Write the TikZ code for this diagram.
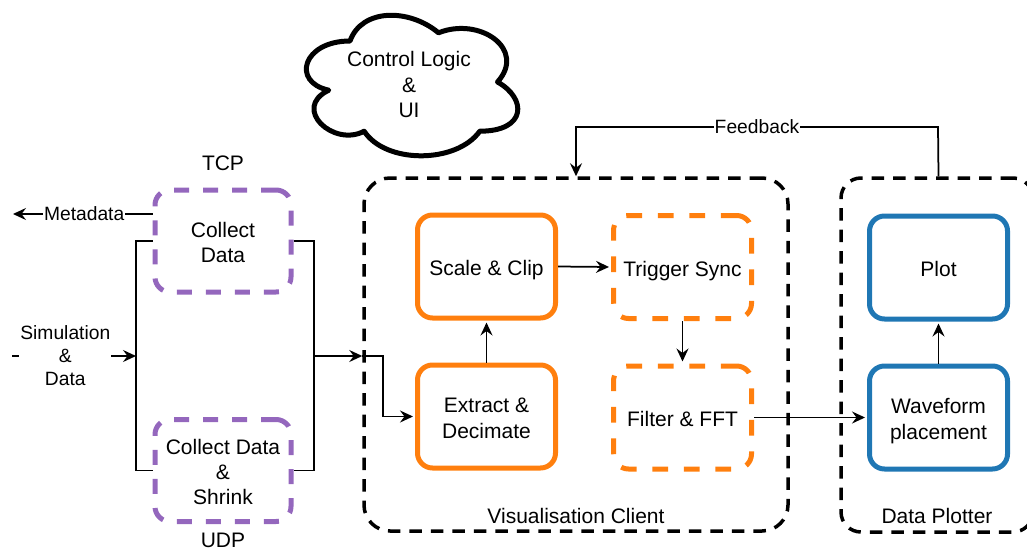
\documentclass[tikz,border=0pt]{standalone}
\usepackage{fontspec}
\setmainfont{Liberation Sans}
\usetikzlibrary{arrows.meta}
\definecolor{stageorange}{HTML}{FF7F0E}
\definecolor{plotblue}{HTML}{1F77B4}
\definecolor{netpurple}{HTML}{9467BD}
% fixed top/bottom extents so box labels sit at the same height
\newcommand\boxtopheight{23pt}
\newcommand\linebot{\rule[-5pt]{0pt}{5pt}}

\begin{document}
\begin{tikzpicture}[x=1pt,y=-1pt,
  nodefont/.style={font=\fontsize{21}{25.2}\selectfont},
  edgefont/.style={font=\fontsize{19.25}{23.1}\selectfont},
  lines/.code={\pgfmathsetlengthmacro\boxtopheight{23pt+25.2pt*(#1-1)}},
  stage/.style={draw=stageorange, line width=5pt, rounded corners=15pt,
    minimum width=138pt, minimum height=103pt, align=center, nodefont, inner sep=0pt,
    lines=1,
    execute at begin node={\rule{0pt}{\boxtopheight}},
    execute at end node=\linebot},
  optstage/.style={stage, dash pattern=on 15.75pt off 15.75pt},
  plotbox/.style={stage, draw=plotblue},
  netbox/.style={stage, draw=netpurple, minimum width=136pt, minimum height=102pt,
    dash pattern=on 15pt off 14pt},
  group/.style={draw=black, line width=3.5pt, dash pattern=on 12.5pt off 9pt,
    inner sep=0pt},
  conn/.style={line width=1.75pt},
  arr/.style={conn, -{Stealth[length=13pt,width=12pt,inset=4.5pt]}},
  lbl/.style={edgefont, fill=white, inner sep=1pt, align=center},
  plain/.style={nodefont, align=center, inner sep=0pt},
]
\useasboundingbox (0,0) rectangle (1027,549);
\clip (0,0) rectangle (1027,549);

% ---- grouping frames ----
\node[group, rounded corners=26pt, minimum width=424pt, minimum height=353pt]
  (vis) at (576,354.5) {};
\node[group, rounded corners=20pt, minimum width=192pt, minimum height=354pt]
  (plotter) at (937,355) {};
\node[plain] (vislbl) at (576,516) {Visualisation Client};
\node[plain] (plotlbl) at (937,516) {Data Plotter};

% ---- control cloud ----
\begin{scope}[shift={(291,0)}, x=236pt, y=-164pt]
  \draw[line width=5pt, line join=round]
    (0.25,0.25) .. controls (0.05,0.25) and (0,0.5) .. (0.16,0.55)
    .. controls (0,0.66) and (0.18,0.9) .. (0.31,0.8)
    .. controls (0.4,1) and (0.7,1) .. (0.8,0.8)
    .. controls (1,0.8) and (1,0.6) .. (0.875,0.5)
    .. controls (1,0.3) and (0.8,0.1) .. (0.625,0.2)
    .. controls (0.5,0.05) and (0.3,0.05) .. (0.25,0.25) -- cycle;
\end{scope}
\node[plain] (ctrl) at (409,84.5) {Control Logic\\\&\\UI};

% ---- network collectors ----
\node[plain] (tcplbl) at (223,163) {TCP};
\node[netbox, lines=2] (tcp) at (223,241) {Collect\\Data};
\node[netbox, lines=3] (udp) at (223,470.5) {Collect Data\\\&\\Shrink};
\node[plain] (udplbl) at (223,540) {UDP};

% ---- processing stages ----
\node[stage] (scale) at (486.5,266.5) {Scale \& Clip};
\node[stage, lines=2] (extract) at (486.5,416.5) {Extract \&\\Decimate};
\node[optstage] (trigger) at (682.5,267) {Trigger Sync};
\node[optstage] (filter) at (682.5,417.5) {Filter \& FFT};
\node[plotbox] (plot) at (938.5,267.5) {Plot};
\node[plotbox, lines=2] (wave) at (938.5,417.5) {Waveform\\placement};

% ---- connectors ----
\coordinate (metaEnd) at (13,214);
\coordinate (simStart) at (12,356);
\coordinate (inJoin) at (136,356);
\coordinate (outJoin) at (314,356);
\coordinate (turn) at (383,356);
\coordinate (fbR) at (938,127);
\coordinate (fbL) at (576,127);

\draw[arr] (tcp.west |- metaEnd) -- node[lbl, pos=0.49]{Metadata} (metaEnd);
\draw[arr] (simStart) -- node[lbl, pos=0.43]{Simulation\\\&\\Data} (inJoin);
\draw[conn] (tcp.west) -- (inJoin |- tcp.west) -- (inJoin |- udp.west) -- (udp.west);
\draw[conn] (tcp.east) -- (outJoin |- tcp.east) -- (outJoin |- udp.east) -- (udp.east);
\draw[arr] (outJoin) -- (vis.west |- outJoin);
\draw[arr, shorten >=2pt] (vis.west |- outJoin) -- (turn) |- (extract.west);

\draw[arr, shorten >=2pt] (extract.north) -- (scale.south);
\draw[arr, shorten >=2pt] (scale.east) -- (trigger.west);
\draw[arr, shorten >=2pt] (trigger.south) -- (filter.north);
\draw[arr, shorten >=2pt] (filter.east) -- (filter.east -| wave.west);
\draw[arr, shorten >=2pt] (wave.north) -- (plot.south);

\draw[arr] (plot.north |- plotter.north) -- (fbR) -- node[lbl]{Feedback} (fbL)
  -- (fbL |- vis.north);
\end{tikzpicture}
\end{document}
